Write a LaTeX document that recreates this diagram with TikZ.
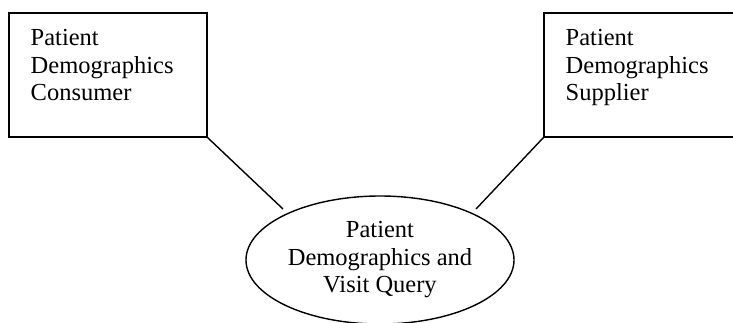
\documentclass[tikz,border=0pt]{standalone}
\usepackage{fontspec}
\setmainfont{Liberation Serif}
\usetikzlibrary{shapes.geometric}
\begin{document}
\begin{tikzpicture}[x=1pt,y=-1pt,line width=1.4pt,
  box/.style={draw,rectangle,inner sep=0pt},
  txt/.style={font=\fontsize{24.5}{27.5}\selectfont,inner sep=0pt},
  lbl/.style={txt,align=left,anchor=north west},
  oval/.style={draw,ellipse,inner sep=0pt,minimum width=268pt,minimum height=128pt,txt,align=center}]
\useasboundingbox (0,0) rectangle (733,322);
\clip (0,0) rectangle (733,322);
\node[box,minimum width=198pt,minimum height=124pt] (L) at (108,75) {};
\node[box,minimum width=200pt,minimum height=124pt] (R) at (644,75) {};
\node[lbl] (Lt) at (30,29) {Patient\\Demographics\\Consumer};
\node[lbl] (Rt) at (565,29) {Patient\\Demographics\\Supplier};
\node[oval] (E) at (380,260) {Patient\\Demographics and\\Visit Query};
\coordinate (e1) at (283,209);
\coordinate (e2) at (476,209);
\draw (L.south east) -- (e1);
\draw (R.south west) -- (e2);
\end{tikzpicture}
\end{document}
